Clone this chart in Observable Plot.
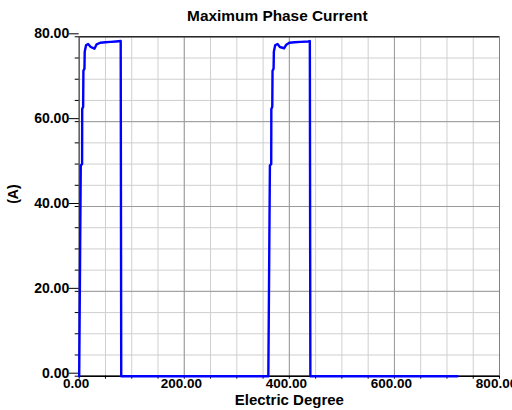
<!DOCTYPE html>
<html><head><meta charset="utf-8">
<script src="https://cdn.jsdelivr.net/npm/d3@7"></script>
<script src="https://cdn.jsdelivr.net/npm/@observablehq/plot@0.6"></script>
<style>body{margin:0;background:#fff} svg{overflow:visible}</style>
</head><body><div id="chart"></div>
<script>
const title = "Maximum Phase Current";
const xLabel = "Electric Degree";
const yLabel = "(A)";
const xTicks = [0, 200, 400, 600, 800];
const yTicks = [0, 20, 40, 60, 80];
const xMinor = [0, 50, 100, 150, 200, 250, 300, 350, 400, 450, 500, 550, 600, 650, 700, 750, 800];
const yMinor = [0, 5, 10, 15, 20, 25, 30, 35, 40, 45, 50, 55, 60, 65, 70, 75, 80];

const degree = [0, 3, 5.5, 5.7, 7.5, 8, 10, 10.5, 13, 17, 22, 29, 33, 40, 50, 60, 70, 79, 80,
  360, 363, 365.5, 365.7, 367.5, 368, 370, 370.5, 373, 377.5, 382, 390, 394, 400, 410, 422, 436, 439, 440, 720];
const current = [0, 49.7, 50, 63, 63.5, 72, 72.5, 76.5, 78, 78.3, 77.6, 77.2, 78.2, 78.6, 78.7, 78.8, 78.9, 79, 0,
  0, 49.7, 50, 63, 63.5, 72, 72.5, 76.5, 78, 78.3, 77.6, 77.3, 78.1, 78.6, 78.7, 78.8, 78.9, 79, 0, 0];

const data = degree.map((d, i) => ({x: d, y: current[i]}));
const fmt = d => d.toFixed(2);
const font = "Liberation Sans, Arial, sans-serif";

const chart = Plot.plot({
  width: 512,
  height: 410,
  marginLeft: 78.7,
  marginRight: 13,
  marginTop: 36.3,
  marginBottom: 34.3,
  style: {fontFamily: font, background: "#fff", color: "#000", overflow: "visible"},
  x: {domain: [0, 800], label: null},
  y: {domain: [0, 80], label: null},
  marks: [
    Plot.gridX(xMinor, {stroke: "#cfcfcf", strokeOpacity: 1}),
    Plot.gridY(yMinor, {stroke: "#cfcfcf", strokeOpacity: 1}),
    Plot.gridX(xTicks, {stroke: "#9a9a9a", strokeOpacity: 1}),
    Plot.gridY(yTicks, {stroke: "#9a9a9a", strokeOpacity: 1}),
    Plot.frame({stroke: "#808080"}),
    Plot.ruleY([80], {stroke: "#000"}),
    Plot.ruleY([0], {stroke: "#000", strokeWidth: 1.5}),
    Plot.ruleX([0], {stroke: "#555"}),
    Plot.axisX(xMinor, {tickSize: 3, text: null, label: null, stroke: "#000"}),
    Plot.axisY(yMinor, {tickSize: 4, text: null, label: null, stroke: "#000"}),
    Plot.axisY(yTicks, {tickSize: 10, tickPadding: 0, tickFormat: fmt, fontSize: 14, fontWeight: "bold", dy: -3, label: null, stroke: "#000", fill: "#000"}),
    Plot.axisX(xTicks, {tickSize: 0, tickPadding: 2, tickFormat: fmt, fontSize: 13.5, fontWeight: "bold", dx: -3, label: null, fill: "#000"}),
    Plot.line(data, {x: "x", y: "y", stroke: "#0000ff", strokeWidth: 2.4}),
    Plot.text([title], {frameAnchor: "top", lineAnchor: "middle", dy: -20.3, dx: -12, fontSize: 15.4, fontWeight: "bold", fill: "#000"}),
    Plot.text([xLabel], {frameAnchor: "bottom", lineAnchor: "middle", dy: 24.3, fontSize: 15, fontWeight: "bold", fill: "#000"}),
    Plot.text([yLabel], {frameAnchor: "left", lineAnchor: "middle", dx: -65.4, dy: -2.7, rotate: -90, fontSize: 14, fontWeight: "bold", fill: "#000"})
  ]
});
document.getElementById("chart").append(chart);
</script>
</body></html>
